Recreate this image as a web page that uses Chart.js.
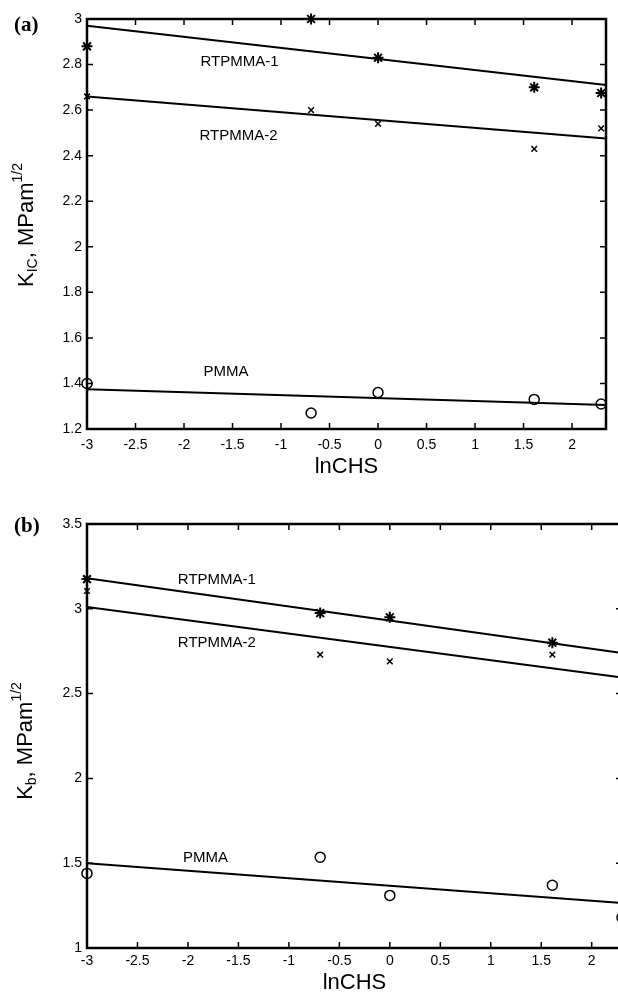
<!DOCTYPE html>
<html><head><meta charset="utf-8">
<script src="https://cdn.jsdelivr.net/npm/chart.js@4"></script>
<style>
html,body{margin:0;padding:0;background:#fff;overflow:hidden;width:618px;height:996px}
#wa{position:absolute;left:0;top:0}
#wb{position:absolute;left:0;top:480px}
</style></head><body>
<div id="wa"><canvas id="chartA" width="618" height="480"></canvas></div>
<div id="wb"><canvas id="chartB" width="640" height="516"></canvas></div>
<script>
// ---- data ----
const lnCHS = [-3, -0.69, 0, 1.61, 2.3];
const xTicks = [-3, -2.5, -2, -1.5, -1, -0.5, 0, 0.5, 1, 1.5, 2];

// (a) K_IC
const kicRT1  = [2.88, 3.0, 2.83, 2.70, 2.675];
const kicRT2  = [2.66, 2.60, 2.54, 2.43, 2.52];
const kicPMMA = [1.40, 1.27, 1.36, 1.33, 1.31];
const fitXA = [-3, 2.35];
const kicFitRT1  = [2.97, 2.71];
const kicFitRT2  = [2.66, 2.475];
const kicFitPMMA = [1.375, 1.305];
const yTicksA = [1.2, 1.4, 1.6, 1.8, 2, 2.2, 2.4, 2.6, 2.8, 3];

// (b) K_b
const lnCHSb = [-3, -0.69, 0, 1.61];
const kbRT1  = [3.175, 2.975, 2.95, 2.80];
const kbRT2  = [3.105, 2.73, 2.69, 2.73];
const lnCHSbP = [-3, -0.69, 0, 1.61, 2.3];
const kbPMMA = [1.44, 1.535, 1.31, 1.37, 1.18];
const fitXB = [-3, 2.3];
const kbFitRT1  = [3.18, 2.74];
const kbFitRT2  = [3.01, 2.595];
const kbFitPMMA = [1.50, 1.265];
const yTicksB = [1, 1.5, 2, 2.5, 3, 3.5];

const FONT = '"Liberation Sans", Arial, sans-serif';

function pts(xs, ys) { return xs.map((x, i) => ({ x: x, y: ys[i] })); }

function fit(xs, ys) {
  return { type: 'line', data: pts(xs, ys), borderColor: '#000', borderWidth: 2,
    pointRadius: 0, fill: false, clip: false };
}
function star(xs, ys) {
  return { type: 'scatter', data: pts(xs, ys), pointStyle: 'star', pointRadius: 5.5,
    borderColor: '#000', borderWidth: 2, clip: false };
}
function cross(xs, ys) {
  return { type: 'scatter', data: pts(xs, ys), pointStyle: 'crossRot', pointRadius: 4,
    borderColor: '#000', borderWidth: 1.5, clip: false };
}
function circ(xs, ys) {
  return { type: 'scatter', data: pts(xs, ys), pointStyle: 'circle', pointRadius: 5,
    backgroundColor: '#fff', borderColor: '#000', borderWidth: 1.5, clip: false };
}

// frame, inward ticks, y title, curve labels, panel letter
const decor = {
  id: 'decor',
  afterDraw(chart, args, o) {
    const ctx = chart.ctx, a = chart.chartArea;
    const xs = chart.scales.x, ys = chart.scales.y;
    ctx.save();
    ctx.strokeStyle = '#000';
    ctx.lineWidth = 2.5;
    ctx.strokeRect(a.left, a.top, a.right - a.left, a.bottom - a.top);
    ctx.lineWidth = 1.5;
    ctx.beginPath();
    o.xTicks.forEach(v => {
      const px = xs.getPixelForValue(v);
      ctx.moveTo(px, a.bottom); ctx.lineTo(px, a.bottom - 6);
      ctx.moveTo(px, a.top); ctx.lineTo(px, a.top + 6);
    });
    o.yTicks.forEach(v => {
      const py = ys.getPixelForValue(v);
      ctx.moveTo(a.left, py); ctx.lineTo(a.left + 6, py);
      ctx.moveTo(a.right, py); ctx.lineTo(a.right - 6, py);
    });
    ctx.stroke();

    // curve labels
    ctx.fillStyle = '#000';
    ctx.font = '15px ' + FONT;
    ctx.textBaseline = 'middle';
    ctx.textAlign = 'left';
    o.labels.forEach(l => {
      ctx.fillText(l.text, xs.getPixelForValue(l.x), ys.getPixelForValue(l.y));
    });

    // panel letter
    ctx.font = 'bold 21px "Liberation Serif", "Times New Roman", serif';
    ctx.fillText(o.panel, 14, o.panelY);

    // y title with sub/superscript
    const big = '22px ' + FONT, small = '14px ' + FONT;
    const parts = [
      { t: 'K', f: big, dy: 0 },
      { t: o.sub, f: small, dy: 6 },
      { t: ', MPam', f: big, dy: 0 },
      { t: '1/2', f: small, dy: -9 }
    ];
    let total = 0;
    parts.forEach(p => { ctx.font = p.f; p.w = ctx.measureText(p.t).width; total += p.w; });
    ctx.translate(o.titleX, o.titleY);
    ctx.rotate(-Math.PI / 2);
    let cx = -total / 2;
    parts.forEach(p => { ctx.font = p.f; ctx.fillText(p.t, cx, p.dy); cx += p.w; });
    ctx.restore();
  }
};

function fmt(v) { return String(Math.round(v * 10) / 10); }

function axes(xMin, xMax, yMin, yMax, yt, xh, xpad) {
  const tickFont = { family: FONT, size: 14 };
  return {
    x: {
      type: 'linear', min: xMin, max: xMax,
      afterBuildTicks: s => { s.ticks = xTicks.map(v => ({ value: v })); },
      afterFit: s => { s.height = xh; },
      grid: { display: false, drawTicks: false },
      border: { display: false },
      ticks: { color: '#000', font: tickFont, padding: xpad, maxRotation: 0, autoSkip: false, callback: fmt },
      title: { display: true, text: 'lnCHS', color: '#000',
        font: { family: FONT, size: 22 }, padding: { top: 0, bottom: 0 } }
    },
    y: {
      type: 'linear', min: yMin, max: yMax,
      afterBuildTicks: s => { s.ticks = yt.map(v => ({ value: v })); },
      afterFit: s => { s.width = 87; },
      grid: { display: false, drawTicks: false },
      border: { display: false },
      ticks: { color: '#000', font: tickFont, padding: 5, autoSkip: false, callback: fmt }
    }
  };
}

new Chart(document.getElementById('chartA'), {
  type: 'scatter',
  data: { datasets: [
    fit(fitXA, kicFitRT1), fit(fitXA, kicFitRT2), fit(fitXA, kicFitPMMA),
    star(lnCHS, kicRT1), cross(lnCHS, kicRT2), circ(lnCHS, kicPMMA)
  ] },
  options: {
    responsive: false, animation: false,
    layout: { padding: { top: 19, right: 12, left: 0, bottom: 0 } },
    plugins: {
      legend: { display: false }, tooltip: { enabled: false },
      decor: {
        xTicks: xTicks, yTicks: yTicksA, sub: 'IC', panel: '(a)', panelY: 26,
        titleX: 27, titleY: 225,
        labels: [
          { text: 'RTPMMA-1', x: -1.83, y: 2.81 },
          { text: 'RTPMMA-2', x: -1.84, y: 2.487 },
          { text: 'PMMA', x: -1.80, y: 1.45 }
        ]
      }
    },
    scales: axes(-3, 2.35, 1.2, 3, yTicksA, 51, 8)
  },
  plugins: [decor]
});

new Chart(document.getElementById('chartB'), {
  type: 'scatter',
  data: { datasets: [
    fit(fitXB, kbFitRT1), fit(fitXB, kbFitRT2), fit(fitXB, kbFitPMMA),
    star(lnCHSb, kbRT1), cross(lnCHSb, kbRT2), circ(lnCHSbP, kbPMMA)
  ] },
  options: {
    responsive: false, animation: false,
    layout: { padding: { top: 44, right: 18, left: 0, bottom: 0 } },
    plugins: {
      legend: { display: false }, tooltip: { enabled: false },
      decor: {
        xTicks: xTicks, yTicks: yTicksB, sub: 'b', panel: '(b)', panelY: 47,
        titleX: 26, titleY: 261,
        labels: [
          { text: 'RTPMMA-1', x: -2.1, y: 3.17 },
          { text: 'RTPMMA-2', x: -2.1, y: 2.80 },
          { text: 'PMMA', x: -2.05, y: 1.53 }
        ]
      }
    },
    scales: axes(-3, 2.3, 1, 3.5, yTicksB, 48, 5)
  },
  plugins: [decor]
});
</script>
</body></html>
